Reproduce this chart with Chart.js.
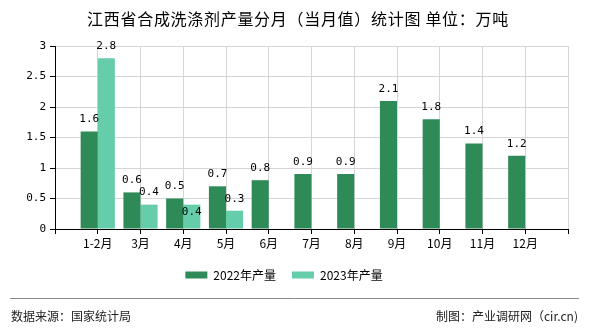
<!DOCTYPE html>
<html><head><meta charset="utf-8">
<script src="https://cdn.jsdelivr.net/npm/chart.js@4/dist/chart.umd.min.js"></script>
<style>html,body{margin:0;padding:0;background:#fff;}#wrap{width:590px;height:330px;position:relative;}</style>
</head><body><div id="wrap"><canvas id="c" width="590" height="330"></canvas></div>
<script>
const categories = ['1-2月','3月','4月','5月','6月','7月','8月','9月','10月','11月','12月'];
const values2022 = [1.6,0.6,0.5,0.7,0.8,0.9,0.9,2.1,1.8,1.4,1.2];
const values2023 = [2.8,0.4,0.4,0.3,null,null,null,null,null,null,null];
const yTicks = [0,0.5,1,1.5,2,2.5,3];
const seriesNames = ['2022年产量','2023年产量'];
const seriesColors = ['#2e8b57','#66cdaa'];
const titleText = '江西省合成洗涤剂产量分月（当月值）统计图 单位：万吨';
const sourceText = '数据来源：国家统计局';
const creditText = '制图：产业调研网（cir.cn)';

const CJK = '"Noto Sans CJK SC", "Noto Sans", sans-serif';
const MONO = '"DejaVu Sans Mono", monospace';

// pad axis with an empty slot at each end
const labels = [''].concat(categories, ['']);
const pad = arr => [null].concat(arr, [null]);

const valueLabels = {
  id: 'valueLabels',
  afterDatasetsDraw(chart) {
    const ctx = chart.ctx;
    ctx.save();
    ctx.font = '11px ' + MONO;
    ctx.fillStyle = '#000';
    ctx.textAlign = 'center';
    ctx.textBaseline = 'middle';
    const m0 = chart.getDatasetMeta(0);
    chart.data.datasets.forEach((ds, di) => {
      const meta = chart.getDatasetMeta(di);
      ds.data.forEach((v, i) => {
        if (v === null || v === undefined) return;
        const el = meta.data[i];
        let y = el.y - 12;
        if (di === 1) {
          const v0 = chart.data.datasets[0].data[i];
          if (v0 !== null) {
            const e0 = m0.data[i];
            const y0 = e0.y - 12;
            const w = ctx.measureText(String(v)).width;
            if (Math.abs(el.x - e0.x) < w && Math.abs(y - y0) < 12) y = el.y + 8;
          }
        }
        ctx.fillText(String(v), el.x, y);
      });
    });
    ctx.restore();
  }
};

const decor = {
  id: 'decor',
  afterDraw(chart) {
    const ctx = chart.ctx;
    ctx.save();
    ctx.fillStyle = '#000';
    ctx.textBaseline = 'middle';
    ctx.textAlign = 'center';
    ctx.font = '16px ' + CJK;
    try { ctx.letterSpacing = '0.7px'; } catch (e) {}
    ctx.fillText(titleText, 298, 19);
    try { ctx.letterSpacing = '0px'; } catch (e) {}
    ctx.strokeStyle = '#8c8c8c';
    ctx.lineWidth = 1;
    ctx.beginPath(); ctx.moveTo(10, 298.5); ctx.lineTo(579, 298.5); ctx.stroke();
    ctx.font = '12px ' + CJK;
    ctx.fillStyle = '#222';
    ctx.textAlign = 'left';
    ctx.fillText(sourceText, 11, 316);
    ctx.textAlign = 'right';
    ctx.fillText(creditText, 578, 316);
    ctx.restore();
  }
};

new Chart(document.getElementById('c'), {
  type: 'bar',
  data: {
    labels: labels,
    datasets: [
      { label: seriesNames[0], data: pad(values2022), backgroundColor: seriesColors[0], borderWidth: 0 },
      { label: seriesNames[1], data: pad(values2023), backgroundColor: seriesColors[1], borderWidth: 0 }
    ]
  },
  options: {
    responsive: false,
    animation: false,
    devicePixelRatio: 1,
    categoryPercentage: 0.8,
    barPercentage: 1.0,
    layout: { padding: { top: 46, right: 22, bottom: 39, left: 0 } },
    plugins: {
      tooltip: { enabled: false },
      title: { display: false },
      legend: {
        position: 'bottom',
        labels: { boxWidth: 22, boxHeight: 7, padding: 16, color: '#000', font: { size: 12, family: CJK } }
      }
    },
    scales: {
      x: {
        offset: false,
        grid: { offset: false, color: '#d6d6d6', tickColor: '#000', tickLength: 5 },
        border: { color: '#000', width: 1 },
        ticks: { autoSkip: false, maxRotation: 0, padding: 2, color: '#000', font: { size: 12, family: CJK } },
        afterFit(s) { s.height = 24; }
      },
      y: {
        min: 0, max: 3,
        afterBuildTicks(s) { s.ticks = yTicks.map(v => ({ value: v })); },
        grid: { color: '#d6d6d6', tickColor: '#000', tickLength: 5 },
        border: { color: '#000', width: 1 },
        ticks: { padding: 4, color: '#000', font: { size: 11, family: MONO }, callback: v => String(v) },
        afterFit(s) { s.width = 55; }
      }
    }
  },
  plugins: [valueLabels, decor]
});
</script></body></html>
